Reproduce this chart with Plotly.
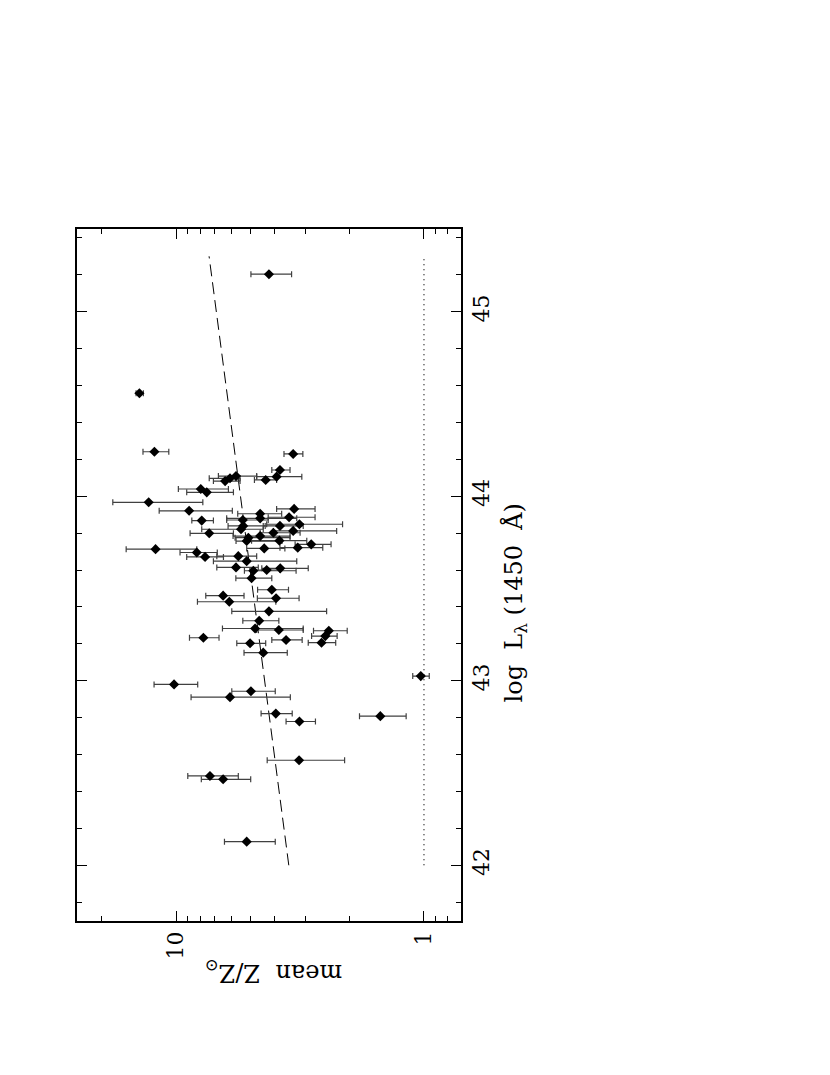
import plotly.graph_objects as go

# ---- data ----
log_L = [45.203, 44.558, 44.241, 44.229, 44.142, 44.106, 44.088, 44.109, 44.097, 44.082,
         44.039, 44.021, 43.967, 43.921, 43.931, 43.905, 43.886, 43.880, 43.871, 43.868,
         43.848, 43.839, 43.839, 43.821, 43.812, 43.802, 43.799, 43.784, 43.775, 43.759,
         43.757, 43.739, 43.721, 43.717, 43.713, 43.695, 43.671, 43.675, 43.648, 43.614,
         43.596, 43.600, 43.609, 43.556, 43.493, 43.461, 43.447, 43.428, 43.376, 43.325,
         43.283, 43.275, 43.271, 43.242, 43.206, 43.233, 43.221, 43.203, 43.152, 43.025,
         42.980, 42.943, 42.911, 42.822, 42.779, 42.808, 42.569, 42.484, 42.466, 42.128]
Z_mean = [4.22, 14.06, 12.23, 3.37, 3.81, 3.93, 4.35, 5.73, 6.06, 6.34,
          7.95, 7.52, 12.9, 8.86, 3.34, 4.58, 3.50, 4.58, 5.38, 7.88,
          3.18, 3.81, 5.36, 5.47, 3.37, 4.05, 7.35, 4.58, 5.11, 3.83,
          5.19, 2.85, 3.23, 4.41, 12.1, 8.25, 7.64, 5.61, 5.19, 5.73,
          4.88, 4.31, 3.80, 4.96, 4.11, 6.46, 3.95, 6.10, 4.22, 4.62,
          4.80, 3.85, 2.42, 2.50, 2.59, 7.76, 3.60, 5.03, 4.45, 1.03,
          10.19, 4.99, 6.06, 3.96, 3.18, 1.50, 3.19, 7.30, 6.46, 5.19]
Z_upper = [4.99, 14.5, 13.6, 3.67, 4.11, 4.73, 4.83, 6.75, 7.35, 7.07,
           9.79, 9.06, 18.0, 11.7, 3.93, 5.64, 4.25, 6.25, 6.25, 8.64,
           4.31, 4.45, 6.17, 7.88, 4.05, 4.58, 8.78, 5.89, 5.78, 4.96,
           5.73, 3.31, 3.81, 5.19, 15.9, 9.64, 9.06, 6.85, 7.07, 6.85,
           5.30, 4.88, 4.51, 5.74, 4.69, 7.59, 4.70, 8.20, 5.96, 5.38,
           6.50, 4.73, 2.79, 2.84, 2.93, 8.83, 4.11, 5.69, 5.32, 1.11,
           12.27, 5.96, 8.70, 4.54, 3.60, 1.82, 4.29, 8.97, 7.91, 6.38]
Z_lower = [3.42, 13.55, 10.7, 3.08, 3.47, 3.11, 3.93, 4.73, 5.52, 5.52,
           6.15, 5.87, 7.8, 5.93, 2.75, 3.75, 2.75, 3.26, 4.25, 7.07,
           2.13, 3.07, 4.37, 4.45, 2.25, 3.16, 5.87, 3.47, 3.47, 2.97,
           3.74, 2.37, 2.56, 3.64, 8.25, 6.82, 6.44, 4.73, 3.26, 4.66,
           3.28, 3.81, 2.93, 4.11, 3.52, 5.32, 3.19, 3.96, 2.47, 3.85,
           3.07, 3.07, 2.04, 2.24, 2.27, 6.71, 3.10, 4.35, 3.56, 0.952,
           8.18, 3.98, 3.46, 3.40, 2.74, 1.18, 2.09, 5.61, 5.00, 3.98]

fit_logL = [42.0, 45.3]
fit_Z = [3.51, 7.36]
solar_logL = [42.0, 45.3]
solar_Z = [1.0, 1.0]

x_tickvals = [1, 10]
x_ticktext = ["1", "10"]
x_minor = [0.8, 0.9, 2, 3, 4, 5, 6, 7, 8, 9, 20]

err_plus = [u - z for u, z in zip(Z_upper, Z_mean)]
err_minus = [z - l for z, l in zip(Z_mean, Z_lower)]

FONT = "DejaVu Serif"

fig = go.Figure()

fig.add_trace(go.Scatter(
    x=fit_Z, y=fit_logL, mode="lines",
    line=dict(color="black", width=1, dash="12px,6px"),
    showlegend=False, hoverinfo="skip"))
fig.add_trace(go.Scatter(
    x=solar_Z, y=solar_logL, mode="lines",
    line=dict(color="black", width=1.2, dash="1px,4px"),
    showlegend=False, hoverinfo="skip"))

fig.add_trace(go.Scatter(
    x=Z_mean, y=log_L, mode="markers",
    marker=dict(symbol="diamond", size=7.8, color="black"),
    error_x=dict(type="data", symmetric=False, array=err_plus, arrayminus=err_minus,
                 color="#404040", thickness=1.2, width=3),
    showlegend=False))

# page body has an 8px default margin; compensate so the plot area sits where the reference has it
fig.update_layout(
    width=814, height=1059,
    margin=dict(l=69, r=361, t=221, b=146),
    paper_bgcolor="white", plot_bgcolor="white",
    font=dict(family=FONT, color="black", size=22),
)

fig.update_xaxes(
    type="log", range=[1.3997, -0.1494],
    tickmode="array", tickvals=x_tickvals, ticktext=x_ticktext,
    tickangle=-90, ticks="inside", ticklen=10, tickwidth=1.2, tickcolor="black",
    minor=dict(tickmode="array", tickvals=x_minor, ticks="inside", ticklen=5,
               tickwidth=1.2, tickcolor="black", showgrid=False),
    showline=True, linecolor="black", linewidth=1.5, mirror="allticks",
    showgrid=False, zeroline=False, tickfont=dict(family=FONT, size=22),
)
fig.update_yaxes(
    range=[41.698, 45.448], side="right",
    tickmode="linear", tick0=42, dtick=1,
    tickangle=-90, ticks="inside", ticklen=10, tickwidth=1.2, tickcolor="black",
    minor=dict(dtick=0.2, ticks="inside", ticklen=5, tickwidth=1.2,
               tickcolor="black", showgrid=False),
    showline=True, linecolor="black", linewidth=1.5, mirror="allticks",
    showgrid=False, zeroline=False, tickfont=dict(family=FONT, size=22),
)

fig.add_annotation(
    text="log  L<sub>λ</sub> (1450  Å)", textangle=-90,
    xref="paper", yref="paper", x=1.143, y=0.4603,
    xanchor="center", yanchor="middle", showarrow=False,
    font=dict(family=FONT, size=24, color="black"))
fig.add_annotation(
    text="mean  Z/Z<sub>⊙</sub>", textangle=180,
    xref="paper", yref="paper", x=0.512, y=-0.0737,
    xanchor="center", yanchor="middle", showarrow=False,
    font=dict(family=FONT, size=24, color="black"))

fig.write_html("out.html")
